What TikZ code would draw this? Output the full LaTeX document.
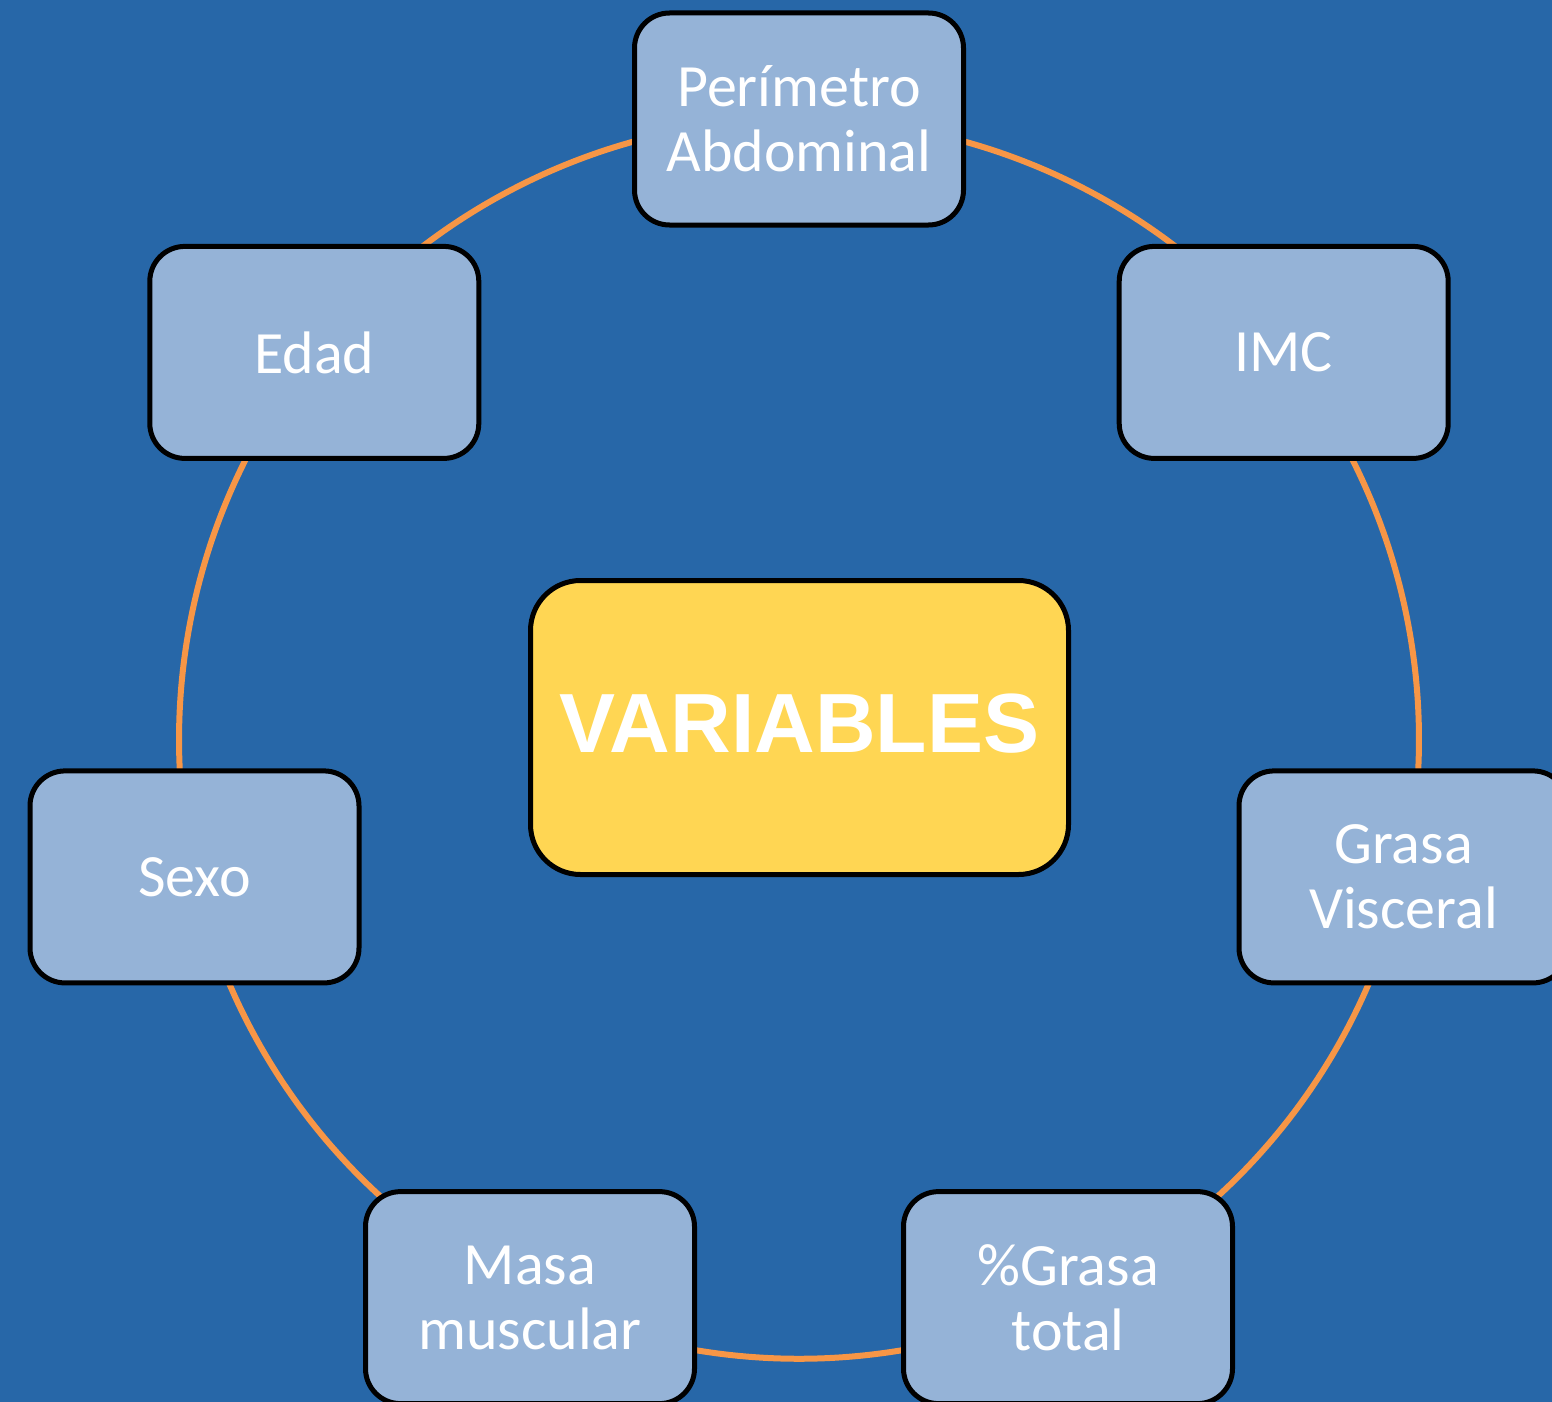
\documentclass[tikz,border=0pt]{standalone}
\usepackage{fontspec}
\setmainfont{Carlito}
\newfontfamily\arialfont{Liberation Sans}
\usetikzlibrary{backgrounds}
\definecolor{bgblue}{HTML}{2767A8}
\definecolor{boxblue}{HTML}{95B3D7}
\definecolor{ringorange}{HTML}{F79646}
\definecolor{centeryellow}{HTML}{FFD653}
\begin{document}
\begin{tikzpicture}[x=0.5pt,y=-0.5pt,
  varbox/.style={draw=black, line width=2.5pt, fill=boxblue, rounded corners=17.5pt,
    minimum width=164.5pt, minimum height=106pt, text=white, align=center,
    font=\fontsize{30}{32.5}\selectfont, inner sep=0pt},
  mainbox/.style={draw=black, line width=2.5pt, fill=centeryellow, rounded corners=25pt,
    minimum width=269pt, minimum height=147pt, text=white,
    font=\arialfont\bfseries\fontsize{42}{48}\selectfont, text depth=4pt, inner sep=0pt},
  ring/.style={draw=ringorange, line width=3pt, bend right=25.71, looseness=0.896}]
\useasboundingbox (0,0) rectangle (1552,1402);

\node[mainbox] (var) at (799.5,727.5) {VARIABLES};
\node[varbox] (pa)   at (799,119)     {Perímetro\\Abdominal};
\node[varbox] (edad) at (314.3,352.4) {Edad};
\node[varbox] (sexo) at (194.5,876.9) {Sexo};
\node[varbox] (masa) at (530,1297.6)  {Masa\\muscular};
\node[varbox] (gt)   at (1068,1297.6) {\%Grasa\\total};
\node[varbox] (gv)   at (1403.5,876.9) {Grasa\\Visceral};
\node[varbox] (imc)  at (1283.7,352.4) {IMC};

\begin{pgfonlayer}{background}
\fill[bgblue] (0,0) rectangle (1552,1402);
\draw[ring] (pa.center) to (edad.center);
\draw[ring] (edad.center) to (sexo.center);
\draw[ring] (sexo.center) to (masa.center);
\draw[ring] (masa.center) to (gt.center);
\draw[ring] (gt.center) to (gv.center);
\draw[ring] (gv.center) to (imc.center);
\draw[ring] (imc.center) to (pa.center);
\end{pgfonlayer}
\end{tikzpicture}
\end{document}
